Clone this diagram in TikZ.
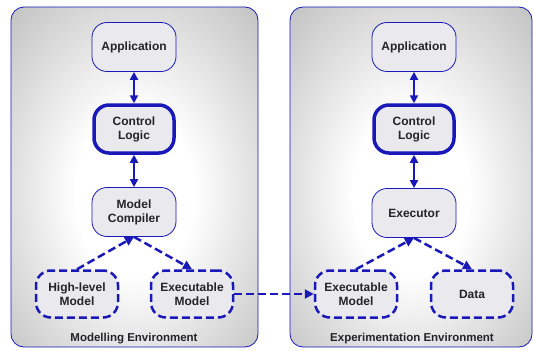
\documentclass[tikz,border=0pt]{standalone}
\usepackage{fontspec}
\setmainfont{Liberation Sans}
\usetikzlibrary{arrows.meta}
\definecolor{envblue}{RGB}{25,25,185}
\definecolor{envgray}{RGB}{176,176,176}
\definecolor{boxfill}{RGB}{234,234,238}
\definecolor{ink}{RGB}{35,35,40}
\newcommand\boxw{84pt}
\newcommand\boxh{49pt}
\newcommand\midl{134}
\newcommand\midr{414}
\pgfdeclareradialshading{envglow}{\pgfpoint{0bp}{-3bp}}{color(0bp)=(white); color(12bp)=(white); color(44bp)=(envgray); color(72bp)=(envgray!85!black)}
\tikzset{
  env/.style={draw=envblue, line width=0.8pt, rounded corners=13pt, shading=envglow},
  comp/.style={rectangle, rounded corners=15pt, draw=envblue, line width=0.8pt, fill=boxfill, minimum width=\boxw, minimum height=\boxh, align=center, font=\fontsize{12}{14}\selectfont\bfseries, text=ink},
  ctrl/.style={comp, line width=3.5pt, minimum width=80pt, minimum height=48pt},
  model/.style={comp, line width=2.5pt, dash pattern=on 8pt off 4pt, minimum width=82pt, minimum height=47pt},
  link/.style={envblue, line width=2.5pt, {Triangle[length=8pt,width=8pt]}-{Triangle[length=8pt,width=8pt]}},
  flow/.style={envblue, line width=2.5pt, dash pattern=on 8pt off 4pt, -{Triangle[length=9pt,width=9pt]}},
  envlabel/.style={font=\fontsize{11.5}{14}\selectfont\bfseries, text=ink}
}

\begin{document}
\begin{tikzpicture}[x=1pt,y=-1pt]
  \useasboundingbox (0,0) rectangle (534,350);
  % the two environments
  \foreach \xa/\xb in {11/258, 290/532}{\shade[env] (\xa,7) rectangle (\xb,347);}

  % modelling side
  \node[comp] (lapp) at (\midl,47) {Application};
  \node[ctrl] (lctrl) at (\midl,129) {Control\\Logic};
  \node[comp] (lcomp) at (\midl,212) {Model\\Compiler};
  \node[model] (lhigh) at (77,294) {High-level\\Model};
  \node[model] (lexec) at (192,294) {Executable\\Model};
  \node[envlabel] (lenv) at (\midl,339) {Modelling Environment};

  % experimentation side
  \node[comp] (rapp) at (\midr,47) {Application};
  \node[ctrl] (rctrl) at (\midr,129) {Control\\Logic};
  \node[comp] (rexe) at (\midr,213) {Executor};
  \node[model] (rexec) at (356,294) {Executable\\Model};
  \node[model] (rdata) at (472,294) {Data};
  \node[envlabel] (renv) at (412,339) {Experimentation Environment};

  \draw[link] (lapp) -- (lctrl);
  \draw[link] (lctrl) -- (lcomp);
  \draw[link] (rapp) -- (rctrl);
  \draw[link] (rctrl) -- (rexe);

  \draw[flow] (lhigh.north) -- (lcomp.south);
  \draw[flow] (lcomp.south) -- (lexec.north);
  \draw[flow] (lexec.east) -- (rexec.west);
  \draw[flow] (rexec.north) -- (rexe.south);
  \draw[flow] (rexe.south) -- (rdata.north);
\end{tikzpicture}
\end{document}
